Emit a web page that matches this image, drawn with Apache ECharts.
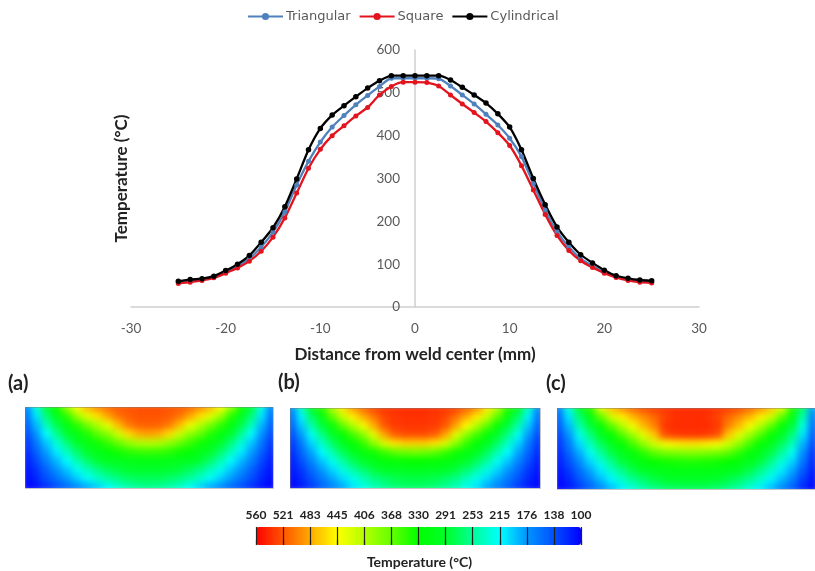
<!DOCTYPE html>
<html><head><meta charset="utf-8">
<style>
html,body{margin:0;padding:0;background:#fff;overflow:hidden;width:815px;height:571px}
#c{width:835px;height:571px}
canvas[data-zr-dom-id="zr_0"]{filter:blur(0.45px)}
canvas[data-zr-dom-id="zr_1"]{filter:blur(3.5px);clip-path:path("M25 407H273V488H25Z M290 408H540V488H290Z M557 408H815V489H557Z")}
</style>
<script src="https://cdn.jsdelivr.net/npm/echarts@6/dist/echarts.min.js"></script>
</head><body><div id="c"></div>
<script>
const distance=[-25,-23.75,-22.5,-21.25,-20,-18.75,-17.5,-16.25,-15,-13.75,-12.5,-11.25,-10,-8.75,-7.5,-6.25,-5,-3.75,-2.5,-1.25,0,1.25,2.5,3.75,5,6.25,7.5,8.75,10,11.25,12.5,13.75,15,16.25,17.5,18.75,20,21.25,22.5,23.75,25];
const triangular=[57,60,64,71,82,96,113,140,175,222,285,340,385,420,447,472,494,515,534,534,534,534,533,516,495,474,450,425,394,351,288,226,176,140,113,96,82,71,64,60,58];
const square=[55,58,62,68,79,91,107,130,163,208,266,324,368,400,423,446,466,495,515,525,525,524,516,495,474,454,433,407,377,330,273,216,167,132,108,92,79,69,62,58,56];
const cylindrical=[60,64,66,72,85,100,120,151,185,234,299,367,417,448,470,491,511,528,540,540,540,540,540,530,513,495,476,451,420,367,300,239,187,151,122,103,86,73,67,63,61];
const scaleLabels=['560','521','483','445','406','368','330','291','253','215','176','138','100'];
const scaleColors=['#0000ff','#0050ff','#0096ff','#00ffff','#00ff96','#00ff28','#00ff00','#64ff00','#b4ff00','#ffff00','#ffaa00','#ff5500','#ff0000'];
const panelA=[
[165,225,285,335,395,445,478,498,512,520,523,525,525,525,523,520,512,498,478,445,395,335,285,225,165],
[155,205,265,305,345,395,430,458,485,508,518,522,522,522,518,508,485,458,430,395,345,305,265,205,155],
[145,190,240,280,315,345,375,405,435,475,505,516,518,516,505,475,438,408,378,348,318,282,240,190,145],
[135,175,215,255,290,315,340,365,385,420,460,482,488,482,460,420,388,368,342,318,292,255,215,175,135],
[125,160,195,230,265,295,315,335,350,370,390,405,410,405,390,370,352,335,318,295,265,230,195,160,125],
[118,148,180,210,240,270,295,310,325,335,345,350,352,350,345,335,325,310,295,270,240,210,180,148,118],
[112,135,165,190,215,245,270,290,300,305,310,312,312,312,310,305,300,290,270,245,215,190,165,135,112],
[108,125,150,175,195,220,240,260,275,285,290,292,292,292,290,285,275,260,240,220,195,175,150,125,108],
[104,118,138,158,178,198,218,235,250,262,270,275,275,275,270,262,250,235,218,198,178,158,138,118,104],
[100,108,122,138,152,168,182,198,213,230,245,252,255,252,245,232,218,200,182,168,152,138,122,108,100]];
const panelB=[
[170,235,295,345,405,455,490,512,528,536,538,540,540,540,538,536,530,516,495,455,405,345,295,235,170],
[155,210,270,315,365,415,450,480,506,528,536,538,538,538,536,528,508,482,452,415,365,315,270,210,155],
[145,195,245,285,325,365,405,440,480,520,534,536,536,536,534,520,485,445,405,365,325,285,245,195,145],
[135,178,220,260,295,325,355,385,430,485,518,526,526,526,518,485,430,385,355,325,295,260,220,178,135],
[125,162,200,235,270,300,325,350,385,425,455,465,465,465,455,425,385,350,325,300,270,235,200,162,125],
[118,150,183,215,245,275,300,318,335,350,365,372,375,372,365,350,335,318,300,275,245,215,183,150,118],
[112,138,168,195,220,250,275,295,310,320,325,328,330,328,325,320,310,295,275,250,220,195,168,138,112],
[108,126,152,178,200,225,248,268,285,295,300,302,302,302,300,295,285,268,248,225,200,178,152,126,108],
[104,118,140,162,182,202,222,240,258,270,278,282,282,282,278,270,258,240,222,202,182,162,140,118,104],
[100,112,128,148,165,182,205,222,240,252,262,268,270,268,262,252,240,222,205,182,165,148,128,112,100]];
const panelC=[
[165,225,290,345,430,470,495,512,525,532,536,540,540,540,540,536,532,525,512,495,470,430,345,265,180],
[150,205,265,315,365,420,450,475,495,512,530,538,540,540,538,530,512,495,475,450,420,365,315,245,165],
[142,190,245,285,325,365,405,440,475,500,535,540,540,540,540,535,500,475,440,405,365,325,285,225,155],
[132,175,222,262,300,330,360,395,430,470,525,535,538,538,535,525,470,430,395,360,330,300,262,205,145],
[124,162,202,240,275,305,330,355,390,420,440,450,455,455,450,442,420,390,355,330,305,275,240,188,135],
[117,150,185,220,252,282,305,325,345,365,375,380,382,382,380,375,365,345,325,305,282,252,220,172,125],
[112,138,170,200,228,258,285,305,320,330,335,338,340,340,338,335,330,320,305,285,258,228,200,158,118],
[107,127,155,182,208,235,258,280,295,305,310,312,312,312,312,310,305,295,280,258,235,208,182,144,112],
[103,118,142,165,190,212,235,255,270,282,290,295,295,295,295,290,282,270,255,235,212,190,165,130,106],
[100,110,128,148,168,190,210,228,245,258,268,272,275,275,272,268,258,245,228,210,190,168,148,118,100]];

const toCells=rows=>rows.flatMap((r,j)=>r.map((v,i)=>[i,j,v]));
const idx=n=>Array.from({length:n},(_,i)=>String(i));
const panelRects=[[21,403,256,89],[286,404,258,88],[553,404,266,89]];
const panels=[panelA,panelB,panelC];
const font='Lato';
const tick={color:'#595959',fontFamily:font,fontSize:13.5};

const grids=[{left:131,width:568,top:50,height:257,outerBoundsMode:'none'}];
const xAxes=[{type:'value',min:-30,max:30,interval:10,splitLine:{show:false},axisTick:{show:false},
  axisLine:{onZero:true,lineStyle:{color:'#cfcfcf',width:1.5}},axisLabel:{...tick,margin:15},
  name:'Distance from weld center (mm)',nameLocation:'middle',nameGap:39,
  nameTextStyle:{fontFamily:font,fontWeight:'bold',fontSize:17,color:'#222'}}];
const yAxes=[{type:'value',min:0,max:600,interval:100,splitLine:{show:false},axisTick:{show:false},offset:-284,
  axisLine:{onZero:false,lineStyle:{color:'#cfcfcf',width:1.5}},axisLabel:{...tick,margin:15},
  name:'Temperature (°C)',nameLocation:'middle',nameGap:285,
  nameTextStyle:{fontFamily:font,fontWeight:'bold',fontSize:17,color:'#222'}}];
const mk=(c,s,name,data)=>({name,type:'line',xAxisIndex:0,yAxisIndex:0,smooth:0.2,symbol:'circle',symbolSize:s,
  data:distance.map((d,i)=>[d,data[i]]),lineStyle:{color:c,width:2.3},itemStyle:{color:c},animation:false});
const series=[mk('#4f81bd',5,'Triangular',triangular),mk('#e3141e',5,'Square',square),mk('#000000',5.5,'Cylindrical',cylindrical)];
panelRects.forEach((r,k)=>{
  grids.push({left:r[0],top:r[1],width:r[2],height:r[3],outerBoundsMode:'none'});
  xAxes.push({type:'category',gridIndex:k+1,data:idx(25),show:false});
  yAxes.push({type:'category',gridIndex:k+1,data:idx(10),inverse:true,show:false});
  series.push({type:'heatmap',xAxisIndex:k+1,yAxisIndex:k+1,zlevel:1,data:toCells(panels[k]),progressive:0,animation:false,silent:true,itemStyle:{borderWidth:0}});
});
grids.push({left:256,top:527,width:325,height:18,outerBoundsMode:'none'});
xAxes.push({type:'category',gridIndex:4,position:'top',boundaryGap:false,data:scaleLabels,z:10,
  axisLine:{show:false},axisTick:{show:true,length:5,alignWithLabel:true,lineStyle:{color:'#222',width:1.2}},
  splitLine:{show:true,interval:0,lineStyle:{color:'#222',width:1.2}},
  axisLabel:{interval:0,margin:6,fontFamily:font,fontWeight:'bold',fontSize:12,color:'#222'}});
yAxes.push({type:'value',gridIndex:4,show:false});

const frame=(r)=>({type:'rect',zlevel:2,silent:true,shape:{x:r[0]+.5,y:r[1]+.5,width:r[2],height:r[3]},style:{fill:'none',stroke:'rgba(110,110,110,0.4)',lineWidth:1}});
const label=(t,x,y,size,anchor)=>({type:'text',x,y,silent:true,style:{text:t,fontFamily:font,fontWeight:'bold',fontSize:size,fill:'#222',textAlign:anchor||'left',textVerticalAlign:'middle'}});

const chart=echarts.init(document.getElementById('c'),null,{renderer:'canvas'});
chart.setOption({
  animation:false,backgroundColor:'#fff',
  legend:{data:['Triangular','Square','Cylindrical'],top:10,left:247,padding:0,itemGap:8,itemWidth:35,itemHeight:9,
    textStyle:{fontFamily:'DejaVu Sans',fontSize:13,color:'#595959',padding:[0,0,0,-2]}},
  grid:grids,xAxis:xAxes,yAxis:yAxes,series,
  visualMap:{type:'continuous',min:100,max:560,seriesIndex:[3,4,5],calculable:false,orient:'horizontal',inverse:true,
    left:256,top:527,itemWidth:18,itemHeight:325,padding:0,text:null,showLabel:false,hoverLink:false,realtime:false,
    inRange:{color:scaleColors}},
  graphic:[
    frame([25,407,248,81]),frame([290,408,250,80]),frame([557,408,258,81]),
    label('(a)',8,384,20),label('(b)',278,383,20),label('(c)',546,384,20),
    label('Temperature (°C)',419.5,562,14,'center')
  ]
});
</script></body></html>
